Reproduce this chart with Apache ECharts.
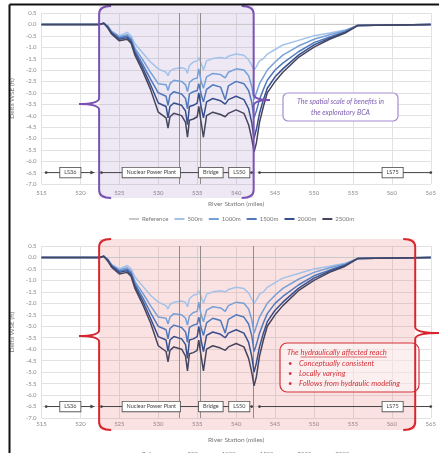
<!DOCTYPE html>
<html><head><meta charset="utf-8">
<script src="https://cdn.jsdelivr.net/npm/echarts@6/dist/echarts.min.js"></script>
<style>html,body{margin:0;padding:0;background:#fff;}#c{width:439px;height:453px;}</style>
</head><body><div id="c"></div>
<script>
// ---- data ----
const seriesNames = ['Reference', '500m', '1000m', '1500m', '2000m', '2500m'];
const refStations = [515, 565];
const refValues = [0, 0];
const stations = [515, 522.5, 523, 523.5, 524, 525, 526, 526.5, 527, 528, 529, 530, 531, 531.25, 531.5, 532, 533, 533.5, 533.75, 534, 534.5, 535, 535.2, 535.5, 535.8, 536.2, 537, 538, 538.6, 539, 540, 541, 541.6, 542, 542.3, 542.6, 543, 543.5, 544, 545, 546, 548, 550, 552, 554, 555.6, 565];
const v500 = [0, 0, 0.05, -0.05, -0.3, -0.5, -0.35, -0.5, -0.85, -1.25, -1.65, -1.95, -2.1, -2.25, -2.05, -1.95, -1.9, -1.95, -2.15, -1.8, -1.65, -1.6, -1.45, -1.7, -2.0, -1.6, -1.5, -1.45, -1.5, -1.4, -1.3, -1.35, -1.55, -1.8, -2.0, -1.85, -1.6, -1.5, -1.3, -1.1, -0.9, -0.7, -0.5, -0.38, -0.25, -0.05, 0];
const v1000 = [0, 0, 0.05, -0.08, -0.32, -0.55, -0.45, -0.6, -1.05, -1.55, -2.1, -2.6, -2.65, -2.9, -2.6, -2.45, -2.5, -2.65, -2.95, -2.55, -2.4, -2.35, -1.95, -2.5, -2.8, -2.3, -2.15, -2.2, -2.35, -2.1, -1.95, -2.0, -2.25, -2.7, -3.3, -3.0, -2.6, -2.3, -2.0, -1.65, -1.35, -0.95, -0.65, -0.45, -0.28, -0.05, 0];
const v1500 = [0, 0, 0.05, -0.1, -0.35, -0.6, -0.52, -0.68, -1.15, -1.75, -2.4, -3.0, -3.15, -3.55, -3.1, -2.95, -3.05, -3.25, -3.7, -3.05, -2.95, -2.9, -2.6, -3.05, -3.4, -2.85, -2.65, -2.75, -3.3, -2.7, -2.5, -2.6, -2.9, -3.4, -4.1, -3.8, -3.3, -2.85, -2.45, -2.0, -1.7, -1.2, -0.8, -0.55, -0.32, -0.05, 0];
const v2000 = [0, 0, 0.05, -0.12, -0.38, -0.65, -0.58, -0.75, -1.25, -1.9, -2.65, -3.45, -3.6, -4.1, -3.6, -3.45, -3.55, -3.8, -4.4, -3.6, -3.55, -3.45, -3.0, -3.6, -4.1, -3.4, -3.25, -3.35, -3.5, -3.3, -3.15, -3.3, -3.7, -4.3, -5.0, -4.6, -3.9, -3.3, -2.8, -2.3, -1.95, -1.35, -0.9, -0.6, -0.35, -0.05, 0];
const v2500 = [0, 0, 0.05, -0.15, -0.42, -0.72, -0.65, -0.82, -1.35, -2.05, -2.85, -3.85, -4.1, -4.55, -4.05, -3.9, -4.0, -4.3, -4.95, -4.2, -4.15, -4.05, -3.6, -4.3, -4.95, -4.0, -3.85, -3.95, -4.05, -3.9, -3.75, -3.9, -4.4, -5.0, -5.6, -5.2, -4.3, -3.6, -3.0, -2.5, -2.1, -1.45, -1.0, -0.65, -0.38, -0.05, 0];
const verticalMarkers = [532.75, 535.4, 542.25];
const barLevel = -6.5;
const barSegments = [[515.6, 521.8], [522.7, 542.0], [543.0, 565]];
const barBoxes = ['LS36', 'Nuclear Power Plant', 'Bridge', 'LS50', 'LS75'];
const barBoxCenters = [518.7, 529.1, 536.75, 540.4, 560.1];
const xName = 'River Station (miles)';
const yName = 'Delta WSE (ft)';

// ---- styling ----
const FONT = 'Lato, "Open Sans", sans-serif';
const colors = ['#c9c9c9', '#a3c2e8', '#76a0d8', '#5078bb', '#384f8e', '#45455e'];
const widths = [1, 1.5, 1.5, 1.5, 1.5, 1.5];
const valueSets = [null, v500, v1000, v1500, v2000, v2500];

const chart = echarts.init(document.getElementById('c'), null, {renderer: 'canvas'});
const gridsDef = [{left: 38, top: 13, width: 400, height: 171}, {left: 38, top: 246, width: 400, height: 172}];
const labelMargin = [6, 3];
const nameGap = [16, 18];

const xAxes = [], yAxes = [], series = [], legends = [];
gridsDef.forEach((g, gi) => {
  xAxes.push({
    type: 'value', gridIndex: gi, min: 515, max: 565, interval: 5,
    name: xName, nameLocation: 'middle', nameGap: nameGap[gi],
    nameTextStyle: {fontSize: 6.5, color: '#777', fontFamily: FONT},
    axisLine: {show: true, lineStyle: {color: '#d9d9d9'}}, axisTick: {show: false},
    axisLabel: {fontSize: 6, color: '#8a8a8a', margin: labelMargin[gi], fontFamily: FONT},
    splitLine: {show: true, lineStyle: {color: '#e2e2e2', width: 1}}
  });
  yAxes.push({
    type: 'value', gridIndex: gi, min: -7, max: 0.5, interval: 0.5,
    name: yName, nameLocation: 'middle', nameGap: 21, nameRotate: 90,
    nameTextStyle: {fontSize: 6.5, color: '#777', fontFamily: FONT},
    axisLine: {show: false}, axisTick: {show: false},
    axisLabel: {fontSize: 6, color: '#8a8a8a', margin: 5, fontFamily: FONT, formatter: v => v.toFixed(1)},
    splitLine: {show: true, lineStyle: {color: '#e2e2e2', width: 1}}
  });
  seriesNames.forEach((nm, si) => {
    const xs = si === 0 ? refStations : stations;
    const ys = si === 0 ? refValues : valueSets[si];
    const s = {
      name: nm, type: 'line', xAxisIndex: gi, yAxisIndex: gi,
      data: xs.map((x, i) => [x, ys[i]]),
      showSymbol: false, symbol: 'none', smooth: false, z: 3 + si,
      lineStyle: {color: colors[si], width: widths[si]}, itemStyle: {color: colors[si]},
      silent: true
    };
    if (si === 0) {
      s.markLine = {
        silent: true, symbol: 'none', label: {show: false},
        lineStyle: {color: '#8d8d8d', width: 1, type: 'solid'},
        data: verticalMarkers.map(v => ({xAxis: v}))
      };
    }
    series.push(s);
  });
});
legends.push({top: 211, left: 124}, {top: 446, left: 124});
const legendOpts = legends.map(l => Object.assign({
  data: seriesNames, itemWidth: 10, itemHeight: 2, icon: 'rect', itemGap: 6,
  textStyle: {fontSize: 6, color: '#777', fontFamily: FONT, padding: [0, 0, 0, -2]},
  selectedMode: false
}, l));

chart.setOption({
  animation: false,
  grid: gridsDef,
  xAxis: xAxes, yAxis: yAxes, series: series, legend: legendOpts
});

// ---- annotations (decorations) ----
function P(gi, x, y) { return chart.convertToPixel({gridIndex: gi}, [x, y]); }
const gfx = [];
// frame
gfx.push({type: 'line', shape: {x1: 9.5, y1: 4.5, x2: 439, y2: 4.5}, style: {stroke: '#111', lineWidth: 2}, z: 50});
gfx.push({type: 'line', shape: {x1: 9.5, y1: 4.5, x2: 9.5, y2: 453}, style: {stroke: '#111', lineWidth: 2}, z: 50});

function brace(xv, top, bot, tipY, tipX, dir, color) {
  const c = -dir * 12;
  const st = {stroke: color, lineWidth: 2, fill: null};
  const out = [];
  out.push({type: 'bezierCurve', shape: {x1: xv + c, y1: top, x2: xv, y2: top + 8, cpx1: xv, cpy1: top}, style: st, z: 40});
  out.push({type: 'line', shape: {x1: xv, y1: top + 8, x2: xv, y2: tipY - 6}, style: st, z: 40});
  out.push({type: 'bezierCurve', shape: {x1: xv, y1: tipY - 6, x2: tipX, y2: tipY, cpx1: xv, cpy1: tipY}, style: st, z: 40});
  out.push({type: 'bezierCurve', shape: {x1: tipX, y1: tipY, x2: xv, y2: tipY + 6, cpx1: xv, cpy1: tipY}, style: st, z: 40});
  out.push({type: 'line', shape: {x1: xv, y1: tipY + 6, x2: xv, y2: bot - 8}, style: st, z: 40});
  out.push({type: 'bezierCurve', shape: {x1: xv, y1: bot - 8, x2: xv + c, y2: bot, cpx1: xv, cpy1: bot}, style: st, z: 40});
  return out;
}

function annotBar(gi) {
  const col = '#444';
  barSegments.forEach((sg, k) => {
    const a = P(gi, sg[0], barLevel), b = P(gi, sg[1], barLevel);
    gfx.push({type: 'line', shape: {x1: a[0], y1: a[1], x2: b[0], y2: b[1]}, style: {stroke: col, lineWidth: 1}, z: 20});
    gfx.push({type: 'circle', shape: {cx: a[0], cy: a[1], r: 1.4}, style: {fill: col}, z: 21});
    if (k === 0) {
      gfx.push({type: 'polygon', shape: {points: [[b[0], b[1]], [b[0] - 4, b[1] - 2], [b[0] - 4, b[1] + 2]]}, style: {fill: col}, z: 21});
    } else {
      gfx.push({type: 'circle', shape: {cx: b[0], cy: b[1], r: 1.4}, style: {fill: col}, z: 21});
    }
  });
  barBoxes.forEach((t, k) => {
    const c = P(gi, barBoxCenters[k], barLevel);
    gfx.push({type: 'text', x: c[0], y: c[1], z: 22, style: {
      text: t, align: 'center', verticalAlign: 'middle', fontSize: 5.5, fill: '#444', fontFamily: FONT,
      backgroundColor: '#fff', borderColor: '#555', borderWidth: 0.9, padding: [2, 4, 1.5, 4]
    }});
  });
}

// upper: purple
(function () {
  const gi = 0;
  const L = P(gi, 522.4, 0)[0], R = P(gi, 542.25, 0)[0];
  const top = 6, bot = 198;
  gfx.push({type: 'rect', shape: {x: L, y: top, width: R - L, height: bot - top}, style: {fill: 'rgba(140,110,185,0.16)'}, z: 1, silent: true});
  brace(L, top, bot, 104, 79, -1, '#7a52b3').forEach(e => gfx.push(e));
  brace(R, top, bot, 100, 270, 1, '#7a52b3').forEach(e => gfx.push(e));
  annotBar(gi);
  gfx.push({type: 'rect', shape: {x: 283, y: 93, width: 115, height: 28, r: 5}, style: {fill: '#fff', stroke: '#a58cd0', lineWidth: 1.2}, z: 30});
  gfx.push({type: 'text', x: 340.5, y: 101.5, z: 31, style: {text: 'The spatial scale of benefits in', align: 'center', verticalAlign: 'middle', fontSize: 7, fontStyle: 'italic', fill: '#7d5cb0', fontFamily: FONT}});
  gfx.push({type: 'text', x: 340.5, y: 112.5, z: 31, style: {text: 'the exploratory BCA', align: 'center', verticalAlign: 'middle', fontSize: 7, fontStyle: 'italic', fill: '#7d5cb0', fontFamily: FONT}});
})();

// lower: red
(function () {
  const gi = 1;
  const L = P(gi, 522.4, 0)[0], R = P(gi, 563, 0)[0];
  const top = 239, bot = 430;
  gfx.push({type: 'rect', shape: {x: L, y: top, width: R - L, height: bot - top}, style: {fill: 'rgba(235,110,110,0.2)'}, z: 1, silent: true});
  brace(L, top, bot, 336, 79, -1, '#d8262e').forEach(e => gfx.push(e));
  brace(R, top, bot, 333, 440, 1, '#d8262e').forEach(e => gfx.push(e));
  annotBar(gi);
  const red = '#d2333a';
  const fs = 7.6;
  gfx.push({type: 'rect', shape: {x: 280, y: 343, width: 139, height: 49, r: 7}, style: {fill: 'rgba(255,255,255,0.45)', stroke: red, lineWidth: 1.2}, z: 30});
  const ctx = document.createElement('canvas').getContext('2d');
  ctx.font = `italic ${fs}px ${FONT}`;
  const pre = 'The ', und = 'hydraulically affected reach';
  const x0 = 287, y0 = 353;
  gfx.push({type: 'text', x: x0, y: y0, z: 31, style: {text: pre + und, align: 'left', verticalAlign: 'middle', fontSize: fs, fontStyle: 'italic', fill: red, fontFamily: FONT}});
  const w1 = ctx.measureText(pre).width, w2 = ctx.measureText(und).width;
  gfx.push({type: 'line', shape: {x1: x0 + w1, y1: y0 + 4, x2: x0 + w1 + w2, y2: y0 + 4}, style: {stroke: red, lineWidth: 0.7}, z: 31});
  ['Conceptually consistent', 'Locally varying', 'Follows from hydraulic modeling'].forEach((t, k) => {
    const yy = 363.5 + k * 10;
    gfx.push({type: 'text', x: 288, y: yy, z: 31, style: {text: '•', align: 'left', verticalAlign: 'middle', fontSize: fs, fill: red, fontFamily: FONT}});
    gfx.push({type: 'text', x: 299, y: yy, z: 31, style: {text: t, align: 'left', verticalAlign: 'middle', fontSize: fs, fontStyle: 'italic', fill: red, fontFamily: FONT}});
  });
})();

chart.setOption({graphic: {elements: gfx}});
</script>
</body></html>
